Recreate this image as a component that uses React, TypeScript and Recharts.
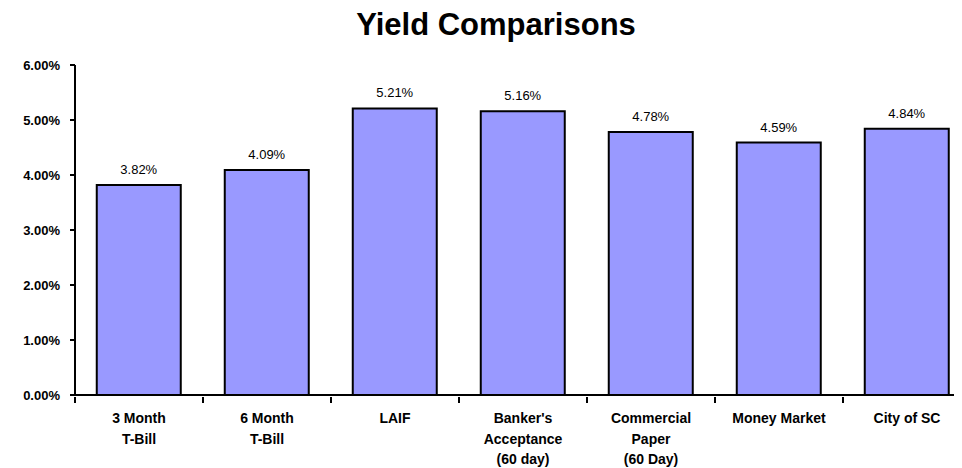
import { BarChart, Bar, XAxis, YAxis, LabelList } from 'recharts'

const categories = [
  '3 Month\nT-Bill',
  '6 Month\nT-Bill',
  'LAIF',
  "Banker's\nAcceptance\n(60 day)",
  'Commercial\nPaper\n(60 Day)',
  'Money Market',
  'City of SC',
]
const yields = [3.82, 4.09, 5.21, 5.16, 4.78, 4.59, 4.84]
const yTicks = [0, 1, 2, 3, 4, 5, 6]

const data = categories.map((name, i) => ({ name, value: yields[i] }))

const pct = (v: number) => `${Number(v).toFixed(2)}%`
const FONT = "'Liberation Sans', Arial, sans-serif"

function CategoryTick(props: any) {
  const { x, y, payload, index } = props
  const half = payload.offset ?? 64
  const lines = String(payload.value).split('\n')
  const left = x - half
  return (
    <g>
      <line x1={left} y1={y - 6} x2={left} y2={y} stroke="#000" strokeWidth={2} />
      {index === categories.length - 1 && (
        <line x1={x + half} y1={y - 6} x2={x + half} y2={y} stroke="#000" strokeWidth={2} />
      )}
      <text x={x} y={y + 20} textAnchor="middle" fontSize={14} fontWeight="bold" fill="#000" fontFamily={FONT}>
        {lines.map((l, i) => (
          <tspan key={i} x={x} dy={i === 0 ? 0 : 20.7}>{l}</tspan>
        ))}
      </text>
    </g>
  )
}

export default function App() {
  return (
    <div style={{ position: 'relative', width: 954, height: 460, background: '#fff', fontFamily: FONT }}>
      <div style={{ width: 954, height: 460, overflow: 'hidden' }}>
        <BarChart width={980} height={460} data={data} margin={{ top: 57, right: 17, bottom: 0, left: 0 }} barCategoryGap="17%">
          <XAxis dataKey="name" height={73} interval={0} tickLine={false} axisLine={{ stroke: '#000', strokeWidth: 2 }}
            tick={<CategoryTick />} />
          <YAxis domain={[0, 6]} ticks={yTicks} width={67} tickFormatter={pct} tickSize={5} tickMargin={10}
            axisLine={{ stroke: '#000', strokeWidth: 2 }} tickLine={{ stroke: '#000', strokeWidth: 2 }}
            tick={{ fill: '#000', fontSize: 13, fontWeight: 'bold', fontFamily: FONT }} />
          <Bar dataKey="value" fill="#9999FF" stroke="#000" strokeWidth={2} isAnimationActive={false}>
            <LabelList dataKey="value" position="top" offset={11} formatter={(v: any) => pct(v)}
              style={{ fill: '#000', fontSize: 13, fontFamily: FONT }} />
          </Bar>
        </BarChart>
      </div>
      <div style={{ position: 'absolute', left: 488, top: -3, transform: 'translateX(-50%)', fontSize: 31, lineHeight: '40px', fontWeight: 'bold', whiteSpace: 'nowrap', color: '#000' }}>
        Yield Comparisons
      </div>
    </div>
  )
}
